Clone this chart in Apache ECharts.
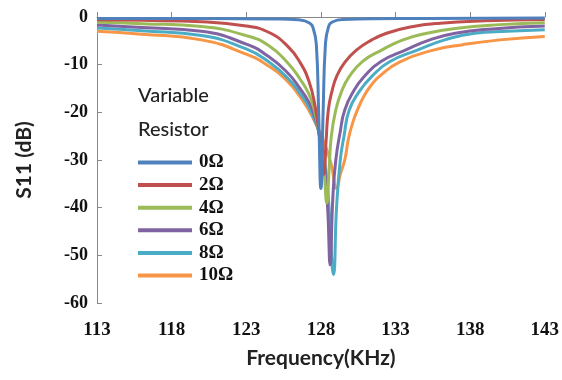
<!DOCTYPE html>
<html>
<head>
<meta charset="utf-8">
<script src="https://cdn.jsdelivr.net/npm/echarts@6/dist/echarts.min.js"></script>
<style>
  html, body { margin: 0; padding: 0; background: #fff; }
  #chart { width: 562px; height: 380px; }
</style>
</head>
<body>
<div id="chart"></div>
<script>
// S11 vs frequency
var seriesNames = ['0Ω', '2Ω', '4Ω', '6Ω', '8Ω', '10Ω']
var xTicks = [113, 118, 123, 128, 133, 138, 143]

var freq0 = [113, 120, 125, 126.5, 127.2, 127.5, 127.7, 127.85, 128.0, 128.15, 128.3, 128.5, 128.8, 129.5, 135, 143]
var s11_0 = [-0.3, -0.3, -0.4, -0.6, -1.2, -2.5, -6, -20, -36, -20, -6, -2.2, -1.0, -0.5, -0.3, -0.2]

var freq2 = [113, 116, 120, 123, 124.5, 125.8, 126.6, 127.2, 127.6, 127.9, 128.1, 128.2, 128.35, 128.5, 128.75, 129.05, 129.6, 130.4, 131.3, 132.4, 134, 136, 139, 143]
var s11_2 = [-0.6, -0.7, -1.0, -1.9, -3.2, -6.2, -9.5, -13.5, -18.5, -25, -31, -33, -26, -19.5, -15.5, -12.5, -9.5, -6.9, -5.0, -3.4, -2.1, -1.3, -0.8, -0.5]

var freq4 = [113, 116, 120, 123, 124.5, 125.8, 126.6, 127.2, 127.6, 127.9, 128.2, 128.4, 128.55, 128.7, 129.0, 129.4, 129.9, 130.8, 132.1, 133.5, 135.1, 137, 140, 143]
var s11_4 = [-1.1, -1.4, -2.0, -3.9, -6.0, -9.7, -13.0, -16.2, -20, -25, -32, -39, -32, -25, -19.5, -15.5, -12.5, -9.3, -6.9, -4.8, -3.4, -2.4, -1.6, -1.2]

var freq6 = [113, 116, 120, 123, 124.5, 125.8, 126.6, 127.2, 127.6, 127.9, 128.2, 128.45, 128.62, 128.8, 129.0, 129.3, 129.6, 130.2, 130.9, 132, 133.7, 135.3, 137, 139.5, 143]
var s11_6 = [-1.7, -2.2, -3.0, -5.7, -8.3, -11.8, -15, -17.9, -21, -24.5, -30, -40, -52, -38, -30, -24, -19.5, -15.5, -12.5, -9.4, -6.9, -4.8, -3.4, -2.5, -1.9]

var freq8 = [113, 116, 120, 123, 124.5, 125.8, 126.6, 127.2, 127.6, 127.9, 128.2, 128.5, 128.85, 129.05, 129.3, 129.55, 129.9, 130.6, 131.4, 132.6, 134.5, 136.3, 138.3, 140.5, 143]
var s11_8 = [-2.3, -2.9, -3.9, -6.7, -9.4, -12.9, -16, -18.9, -21.8, -24.5, -29, -38, -54, -40, -30, -25, -19.5, -15.5, -12.5, -9.4, -6.9, -4.8, -3.4, -3.0, -2.7]

var freq10 = [113, 116, 120, 123, 124.5, 125.8, 126.6, 127.2, 127.6, 127.9, 128.3, 128.7, 129.05, 129.3, 129.6, 129.85, 130.15, 130.45, 130.9, 131.4, 131.9, 133.3, 135.6, 137.5, 140, 143]
var s11_10 = [-3.0, -3.6, -4.8, -7.8, -10.3, -13.6, -16.7, -19.6, -22, -24, -27, -31, -36, -33, -30, -25.5, -22, -19.5, -16.5, -14.2, -12.5, -9.4, -6.9, -5.8, -4.8, -4.1]

var freqs = [freq0, freq2, freq4, freq6, freq8, freq10]
var values = [s11_0, s11_2, s11_4, s11_6, s11_8, s11_10]
var colors = ['#4F81BD', '#C0504D', '#9BBB59', '#8064A2', '#4BACC6', '#F79646']

function pairs (xs, ys) {
  return xs.map(function (x, i) { return [x, ys[i]] })
}

var chart = echarts.init(document.getElementById('chart'))
var serifBold = {
  fontFamily: 'Liberation Serif',
  fontWeight: 'bold',
  fontSize: 18,
  color: '#111'
}

chart.setOption({
  animation: false,
  color: colors,
  grid: { left: 97, right: 14, top: 17, bottom: 77 },
  legend: {
    orient: 'vertical',
    left: 138,
    top: 153,
    padding: 0,
    icon: 'rect',
    itemWidth: 54,
    itemHeight: 4,
    itemGap: 3.6,
    data: seriesNames,
    textStyle: Object.assign({}, serifBold, { fontSize: 19, lineHeight: 19, padding: [0, 0, 0, 2] })
  },
  graphic: [
    { type: 'text', left: 138, top: 86, style: { text: 'Variable', font: '500 20px Lato', fill: '#222' } },
    { type: 'text', left: 138, top: 120, style: { text: 'Resistor', font: '500 20px Lato', fill: '#222' } }
  ],
  xAxis: {
    type: 'value',
    min: 113,
    max: 143,
    interval: 5,
    name: 'Frequency(KHz)',
    nameLocation: 'middle',
    nameGap: 45,
    nameTextStyle: { fontFamily: 'Lato', fontWeight: 'bold', fontSize: 21, color: '#222' },
    axisLine: { lineStyle: { color: '#888', width: 1 } },
    axisTick: { inside: true, length: 5, lineStyle: { color: '#888' } },
    axisLabel: Object.assign({}, serifBold, { margin: 18, fontSize: 19 }),
    splitLine: { show: false }
  },
  yAxis: {
    type: 'value',
    min: -60,
    max: 0,
    interval: 10,
    name: 'S11 (dB)',
    nameLocation: 'middle',
    nameGap: 62,
    nameRotate: 90,
    nameTextStyle: { fontFamily: 'Lato', fontWeight: 'bold', fontSize: 21, color: '#222' },
    axisLine: { show: true, lineStyle: { color: '#888', width: 1 } },
    axisTick: { show: true, inside: true, length: 5, lineStyle: { color: '#888' } },
    axisLabel: Object.assign({}, serifBold, { margin: 9 }),
    splitLine: { show: false }
  },
  series: seriesNames.map(function (name, i) {
    return {
      name: name,
      type: 'line',
      data: pairs(freqs[i], values[i]),
      smooth: 0.5,
      showSymbol: false,
      lineStyle: { width: 3, color: colors[i] },
      z: 10 - i
    }
  })
})
</script>
</body>
</html>
